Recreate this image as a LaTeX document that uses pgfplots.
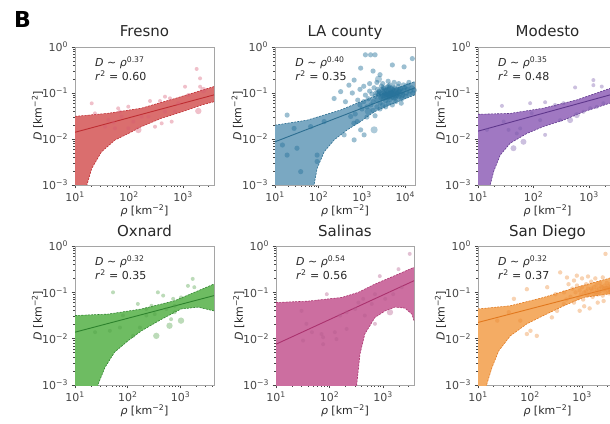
\documentclass[border=0pt]{standalone}
\usepackage{fontspec}
\setmainfont{DejaVu Sans}
\usepackage{pgfplots}
\pgfplotsset{compat=1.18}
\definecolor{frameC}{RGB}{165,165,165}
\definecolor{tickC}{RGB}{70,70,70}
\definecolor{titleC}{RGB}{40,40,40}
\definecolor{frF}{RGB}{218,110,110}\definecolor{frD}{RGB}{190,45,50}\definecolor{frP}{RGB}{215,90,115}
\definecolor{laF}{RGB}{122,168,194}\definecolor{laD}{RGB}{45,110,145}\definecolor{laP}{RGB}{40,115,155}
\definecolor{moF}{RGB}{160,120,194}\definecolor{moD}{RGB}{95,55,140}\definecolor{moP}{RGB}{120,90,170}
\definecolor{oxF}{RGB}{110,188,98}\definecolor{oxD}{RGB}{45,130,45}\definecolor{oxP}{RGB}{80,160,70}
\definecolor{saF}{RGB}{204,110,160}\definecolor{saD}{RGB}{170,50,110}\definecolor{saP}{RGB}{180,90,140}
\definecolor{sdF}{RGB}{244,172,100}\definecolor{sdD}{RGB}{225,120,30}\definecolor{sdP}{RGB}{236,140,55}
\newcommand\tfont{\fontsize{11}{13}\selectfont}
\pgfplotsset{
  every axis/.append style={
    scale only axis, xmin=10, ymin=0.001, ymax=1,
    axis line style={draw=frameC, line width=0.8pt},
    tick align=outside, xtick pos=left, ytick pos=left,
    major tick length=3.5pt, minor tick length=2pt,
    tick style={draw=tickC, line width=0.6pt},
    xtick={10,100,1000,10000},
    xticklabels={10\textsuperscript{1},10\textsuperscript{2},10\textsuperscript{3},10\textsuperscript{4}},
    ytick={0.001,0.01,0.1,1},
    yticklabels={10\textsuperscript{−3},10\textsuperscript{−2},10\textsuperscript{−1},10\textsuperscript{0}},
    ticklabel style={font=\tfont, text=tickC},
    title style={at={(0.5,1)}, anchor=base, yshift=4pt, font=\fontsize{15}{17}\selectfont, text=titleC},
    xlabel={\textit{ρ} [km\textsuperscript{−2}]},
    ylabel={\textit{D} [km\textsuperscript{−2}]},
    xlabel style={at={(axis description cs:0.5,-0.185)}, anchor=center, font=\tfont, text=titleC},
    ylabel style={at={(axis description cs:-0.27,0.5)}, anchor=center, font=\tfont, text=titleC},
  },
}
\tikzset{
  myband/.style={draw=none, fill=#1},
  myedge/.style={draw=#1, line width=0.6pt, dash pattern=on 2pt off 1.2pt},
  myfit/.style={draw=#1, line width=0.9pt},
  mypts/.style={only marks, mark=*, color=#1, mark options={fill=#1, fill opacity=0.38, draw opacity=0}},
  myptsd/.style={only marks, mark=*, color=#1, mark options={fill=#1, fill opacity=0.46, draw opacity=0}},
  ann/.style={anchor=west, font=\tfont, text=titleC},
}
\begin{document}
\begin{tikzpicture}
\useasboundingbox (0pt,0pt) rectangle (610pt,423pt);
\clip (0pt,0pt) rectangle (610pt,423pt);
\node[anchor=base west, inner sep=0pt, font=\bfseries\fontsize{22}{24}\selectfont] at (14pt,395pt) {B};

% ---------------- Fresno
\begin{axis}[xmode=log, ymode=log, anchor=north west, at={(75pt,376pt)}, width=139pt, height=138pt, xmax=3750, title={Fresno}]
\addplot[myband=frF] coordinates {(10,0.031) (41.7,0.0363) (170,0.0468) (708,0.0759) (3750,0.138)
 (3750,0.0646) (2240,0.055) (955,0.0389) (398,0.0282) (170,0.0186) (97.7,0.0132) (55,0.0095) (30.9,0.00525) (20.4,0.00229) (16.6,0.001) (15,0.0003) (13.5,0.0001) (10,0.0001)};
\addplot[myedge=frD] coordinates {(10,0.031) (41.7,0.0363) (170,0.0468) (708,0.0759) (3750,0.138)};
\addplot[myedge=frD] coordinates {(3750,0.0646) (2240,0.055) (955,0.0389) (398,0.0282) (170,0.0186) (97.7,0.0132) (55,0.0095) (30.9,0.00525) (20.4,0.00229) (16.6,0.001) (15,0.0003)};
\addplot[myfit=frD] coordinates {(10,0.014) (3750,0.091)};
\addplot[mypts=frP, mark size=2pt] coordinates {(1790,0.333) (1090,0.137) (2070,0.208) (2070,0.137) (464,0.0832) (574,0.0766) (375,0.067) (245,0.067) (97,0.0505) (63,0.0464) (68,0.0393) (20.4,0.0596) (41.4,0.0259) (51.3,0.023) (55,0.0171) (97,0.0171) (303,0.0185) (403,0.0219) (617,0.0238) (464,0.0393) (711,0.0393) (820,0.0596) (1256,0.0906) (172,0.0306) (36,0.0185) (23.4,0.0361) (120,0.0238) (73,0.0306) (228,0.0306)};
\addplot[mypts=frP, mark size=3.2pt] coordinates {(2380,0.116) (149,0.0157) (1920,0.0406)};
\node[ann] at (axis description cs:0.12,0.884) {\textit{D} ∼ \textit{ρ}\textsuperscript{0.37}};
\node[ann] at (axis description cs:0.12,0.79) {\textit{r}\textsuperscript{2} = 0.60};
\end{axis}

% ---------------- LA county
\begin{axis}[xmode=log, ymode=log, anchor=north west, at={(275pt,376pt)}, width=140pt, height=138pt, xmax=16600, title={LA county}]
\addplot[myband=laF] coordinates {(10,0.020) (55,0.0257) (324,0.0427) (776,0.0603) (1905,0.0832) (16600,0.178)
 (16600,0.0912) (5500,0.0603) (1905,0.0389) (933,0.024) (457,0.0158) (229,0.00955) (135,0.00525) (93,0.00229) (79,0.001) (70,0.0002) (60,0.0001) (10,0.0001)};
\addplot[myedge=laD] coordinates {(10,0.020) (55,0.0257) (324,0.0427) (776,0.0603) (1905,0.0832) (16600,0.178)};
\addplot[myedge=laD] coordinates {(16600,0.0912) (5500,0.0603) (1905,0.0389) (933,0.024) (457,0.0158) (229,0.00955) (135,0.00525) (93,0.00229) (79,0.001) (70,0.0002)};
\addplot[myfit=laD] coordinates {(10,0.0087) (16600,0.13)};
\addplot[myptsd=laP, mark size=2.6pt] coordinates {
(1200,0.09) (1400,0.075) (1500,0.11) (1700,0.095) (1800,0.065) (1900,0.13) (2000,0.085) (2100,0.1) (2200,0.07) (2300,0.12)
(2400,0.09) (2500,0.105) (2600,0.06) (2700,0.08) (2800,0.14) (2900,0.095) (3000,0.11) (3100,0.075) (3200,0.125) (3300,0.088)
(3400,0.1) (3500,0.068) (3600,0.115) (3700,0.092) (3800,0.135) (3900,0.078) (4000,0.105) (4100,0.12) (4200,0.085) (4300,0.097)
(4400,0.15) (4500,0.072) (4600,0.11) (4700,0.09) (4800,0.125) (4900,0.1) (5000,0.082) (5200,0.115) (5400,0.095) (5600,0.13)
(5800,0.077) (6000,0.105) (6200,0.12) (6400,0.088) (6600,0.1) (6800,0.14) (7000,0.083) (7300,0.11) (7600,0.095) (7900,0.125)
(8200,0.075) (8500,0.105) (8800,0.09) (9200,0.115) (9600,0.13) (10000,0.085) (10500,0.1) (11000,0.12) (12000,0.095) (13000,0.11)
(14000,0.13) (15000,0.1) (16000,0.115)
(900,0.055) (1000,0.045) (1100,0.065) (1300,0.05) (1600,0.055) (1800,0.042) (2200,0.05) (2600,0.045) (3000,0.055) (3500,0.05)
(4000,0.06) (5000,0.055) (6000,0.065) (8000,0.06) (1500,0.16) (2200,0.17) (3000,0.16) (4000,0.18) (5500,0.17) (7000,0.16)
(9000,0.15) (12000,0.17) (1100,0.14) (700,0.035) (800,0.07) (650,0.022) (1300,0.03) (2000,0.032) (900,0.12) (600,0.1)
(2500,0.095) (3300,0.115) (4500,0.1) (5200,0.09) (6000,0.085) (3700,0.11) (2900,0.12) (7500,0.12) (4200,0.13) (3000,0.085)
(2700,0.1) (3500,0.095) (4000,0.09) (4800,0.105) (5500,0.1) (3200,0.1) (3900,0.12) (4600,0.095) (2300,0.1) (5000,0.12)
(2800,0.075) (3600,0.08) (4400,0.085) (5300,0.078) (6300,0.095) (3100,0.13) (4100,0.14) (5100,0.135) (2500,0.11) (6800,0.11)
(1200,0.676) (1580,0.676) (5000,0.407) (933,0.347) (501,0.148) (661,0.191) (324,0.107) (229,0.0759) (417,0.0646) (550,0.0309)
(776,0.024) (933,0.0158) (1120,0.0123) (661,0.00955) (389,0.0123) (135,0.024) (93,0.00447) (93,0.00324) (19,0.00447) (32,0.0063)
(39,0.00195) (14.8,0.0074) (66,0.0186) (27.5,0.017) (19,0.0331) (9300,0.37) (14400,0.56) (2000,0.676) (2600,0.25) (1800,0.3)};
\addplot[mypts=laP, mark size=3.6pt] coordinates {(1905,0.0158) (2400,0.2) (3500,0.09) (6000,0.11) (1400,0.04) (8000,0.09) (11000,0.14)};
\node[ann] at (axis description cs:0.12,0.884) {\textit{D} ∼ \textit{ρ}\textsuperscript{0.40}};
\node[ann] at (axis description cs:0.12,0.79) {\textit{r}\textsuperscript{2} = 0.35};
\end{axis}

% ---------------- Modesto
\begin{axis}[xmode=log, ymode=log, anchor=north west, at={(478pt,376pt)}, width=139pt, height=138pt, xmax=3200, title={Modesto}]
\addplot[myband=moF] coordinates {(10,0.0345) (38,0.036) (151,0.0468) (603,0.0708) (2400,0.126) (3200,0.145)
 (3200,0.0676) (2400,0.0603) (794,0.0389) (347,0.0257) (151,0.0186) (75.9,0.0132) (38,0.0081) (25.1,0.00447) (19.1,0.00195) (16.6,0.001) (15,0.0003) (13.5,0.0001) (10,0.0001)};
\addplot[myedge=moD] coordinates {(10,0.0345) (38,0.036) (151,0.0468) (603,0.0708) (2400,0.126) (3200,0.145)};
\addplot[myedge=moD] coordinates {(3200,0.0676) (2400,0.0603) (794,0.0389) (347,0.0257) (151,0.0186) (75.9,0.0132) (38,0.0081) (25.1,0.00447) (19.1,0.00195) (16.6,0.001) (15,0.0003)};
\addplot[myfit=moD] coordinates {(10,0.0148) (3200,0.1)};
\addplot[mypts=moP, mark size=2pt] coordinates {(562,0.132) (1200,0.191) (1200,0.148) (1700,0.138) (1820,0.06) (87,0.06) (27,0.0525) (162,0.063) (245,0.055) (347,0.06) (302,0.0257) (1050,0.0468) (1380,0.05) (14.5,0.0158) (35.5,0.0158) (50,0.0132) (57.5,0.017) (162,0.0123) (132,0.0257) (93,0.0363) (29,0.024) (794,0.039)};
\addplot[mypts=moP, mark size=3pt] coordinates {(603,0.033) (457,0.0257) (66,0.0087) (43.6,0.0063)};
\node[ann] at (axis description cs:0.12,0.884) {\textit{D} ∼ \textit{ρ}\textsuperscript{0.35}};
\node[ann] at (axis description cs:0.12,0.79) {\textit{r}\textsuperscript{2} = 0.48};
\end{axis}

% ---------------- Oxnard
\begin{axis}[xmode=log, ymode=log, anchor=north west, at={(75pt,177pt)}, width=139pt, height=139pt, xmax=4300, title={Oxnard}]
\addplot[myband=oxF] coordinates {(10,0.0316) (42.7,0.0339) (182,0.0437) (776,0.066) (4300,0.151)
 (4300,0.0398) (2140,0.0479) (1020,0.0437) (437,0.0263) (182,0.0148) (102,0.0091) (56,0.0051) (37,0.0024) (27.5,0.00105) (25,0.0003) (22,0.0001) (10,0.0001)};
\addplot[myedge=oxD] coordinates {(10,0.0316) (42.7,0.0339) (182,0.0437) (776,0.066) (4300,0.151)};
\addplot[myedge=oxD] coordinates {(4300,0.0398) (2140,0.0479) (1020,0.0437) (437,0.0263) (182,0.0148) (102,0.0091) (56,0.0051) (37,0.0024) (27.5,0.00105) (25,0.0003)};
\addplot[myfit=oxD] coordinates {(10,0.0138) (4300,0.085)};
\addplot[mypts=oxP, mark size=2pt] coordinates {(1700,0.195) (1820,0.129) (1380,0.138) (372,0.1) (468,0.0851) (724,0.0724) (1020,0.0776) (776,0.0513) (537,0.0437) (282,0.0513) (155,0.0562) (52.5,0.1) (81,0.0316) (71,0.0174) (126,0.0115) (170,0.0174) (224,0.0316) (661,0.0263) (324,0.0339) (776,0.0372) (24,0.0138) (45.7,0.0148) (224,0.0437)};
\addplot[mypts=oxP, mark size=3.2pt] coordinates {(347,0.0115) (617,0.019) (1020,0.0245)};
\node[ann] at (axis description cs:0.12,0.884) {\textit{D} ∼ \textit{ρ}\textsuperscript{0.32}};
\node[ann] at (axis description cs:0.12,0.79) {\textit{r}\textsuperscript{2} = 0.35};
\end{axis}

% ---------------- Salinas
\begin{axis}[xmode=log, ymode=log, anchor=north west, at={(276pt,177pt)}, width=138pt, height=139pt, xmax=3800, title={Salinas}]
\addplot[myband=saF] coordinates {(10,0.0603) (39.8,0.0646) (170,0.0776) (347,0.1) (708,0.151) (1660,0.229) (3800,0.347)
 (3800,0.0245) (3470,0.034) (2570,0.0457) (1660,0.0479) (1100,0.0398) (708,0.0288) (457,0.0126) (372,0.00468) (324,0.00105) (310,0.0003) (300,0.0001) (10,0.0001)};
\addplot[myedge=saD] coordinates {(10,0.0603) (39.8,0.0646) (170,0.0776) (347,0.1) (708,0.151) (1660,0.229) (3800,0.347)};
\addplot[myedge=saD] coordinates {(3800,0.0245) (3470,0.034) (2570,0.0457) (1660,0.0479) (1100,0.0398) (708,0.0288) (457,0.0126) (372,0.00468) (324,0.00105) (310,0.0003)};
\addplot[myfit=saD] coordinates {(10,0.0076) (3800,0.178)};
\addplot[mypts=saP, mark size=2pt] coordinates {(3160,0.676) (1950,0.316) (871,0.224) (89,0.0912) (708,0.0912) (427,0.0724) (617,0.0562) (1100,0.0724) (30,0.0398) (158,0.0316) (209,0.0372) (457,0.0316) (708,0.0209) (37,0.0209) (47,0.0138) (32,0.0091) (71,0.0126) (76,0.0107) (76,0.0076) (126,0.0138) (135,0.0098) (209,0.0162) (302,0.0437) (347,0.06) (1550,0.0912) (2240,0.129)};
\addplot[mypts=saP, mark size=3.2pt] coordinates {(1350,0.0372)};
\node[ann] at (axis description cs:0.12,0.884) {\textit{D} ∼ \textit{ρ}\textsuperscript{0.54}};
\node[ann] at (axis description cs:0.12,0.79) {\textit{r}\textsuperscript{2} = 0.56};
\end{axis}

% ---------------- San Diego
\begin{axis}[xmode=log, ymode=log, anchor=north west, at={(478pt,177pt)}, width=139pt, height=139pt, xmax=4700, title={San Diego}]
\addplot[myband=sdF] coordinates {(10,0.0437) (41.7,0.0513) (182,0.0776) (794,0.129) (3020,0.195) (4700,0.229)
 (4700,0.1) (3020,0.0912) (1070,0.0776) (447,0.0513) (182,0.0316) (87,0.0209) (41.7,0.0115) (25.1,0.0055) (18.6,0.0024) (14.8,0.00105) (13.5,0.0003) (12.5,0.0001) (10,0.0001)};
\addplot[myedge=sdD] coordinates {(10,0.0437) (41.7,0.0513) (182,0.0776) (794,0.129) (3020,0.195) (4700,0.229)};
\addplot[myedge=sdD] coordinates {(4700,0.1) (3020,0.0912) (1070,0.0776) (447,0.0513) (182,0.0316) (87,0.0209) (41.7,0.0115) (25.1,0.0055) (18.6,0.0024) (14.8,0.00105) (13.5,0.0003)};
\addplot[myfit=sdD] coordinates {(10,0.0224) (4700,0.135)};
\addplot[mypts=sdP, mark size=2.2pt] coordinates {
(600,0.08) (650,0.12) (700,0.06) (750,0.1) (800,0.14) (850,0.075) (900,0.11) (950,0.09) (1000,0.13) (1050,0.07)
(1100,0.1) (1200,0.15) (1250,0.085) (1300,0.12) (1400,0.095) (1500,0.17) (1550,0.11) (1600,0.08) (1700,0.13) (1800,0.1)
(1900,0.145) (2000,0.09) (2100,0.12) (2200,0.16) (2300,0.105) (2400,0.13) (2500,0.085) (2600,0.115) (2700,0.14) (2800,0.1)
(2900,0.125) (3000,0.16) (3100,0.11) (3200,0.135) (3300,0.095) (3400,0.12) (3500,0.15) (3600,0.105) (3700,0.13) (3800,0.115)
(4000,0.14) (4200,0.12) (4500,0.13) (1100,0.05) (1400,0.045) (900,0.04) (2000,0.06) (2600,0.065) (700,0.18) (1000,0.2)
(1300,0.22) (1800,0.2) (2500,0.21) (500,0.07) (550,0.15) (450,0.1)
(1500,0.12) (1900,0.115) (2300,0.135) (2700,0.12) (3100,0.125) (3500,0.11) (4100,0.125) (1200,0.105) (1700,0.09) (2100,0.1)
(2820,0.676) (380,0.269) (513,0.209) (794,0.229) (214,0.129) (309,0.0912) (87,0.117) (49,0.0724) (102,0.0148) (135,0.0115)
(87,0.0126) (263,0.0288) (331,0.0398) (447,0.0562) (39,0.0372) (23.4,0.0245) (65,0.0245)};
\node[ann] at (axis description cs:0.12,0.884) {\textit{D} ∼ \textit{ρ}\textsuperscript{0.32}};
\node[ann] at (axis description cs:0.12,0.79) {\textit{r}\textsuperscript{2} = 0.37};
\end{axis}
\end{tikzpicture}
\end{document}
